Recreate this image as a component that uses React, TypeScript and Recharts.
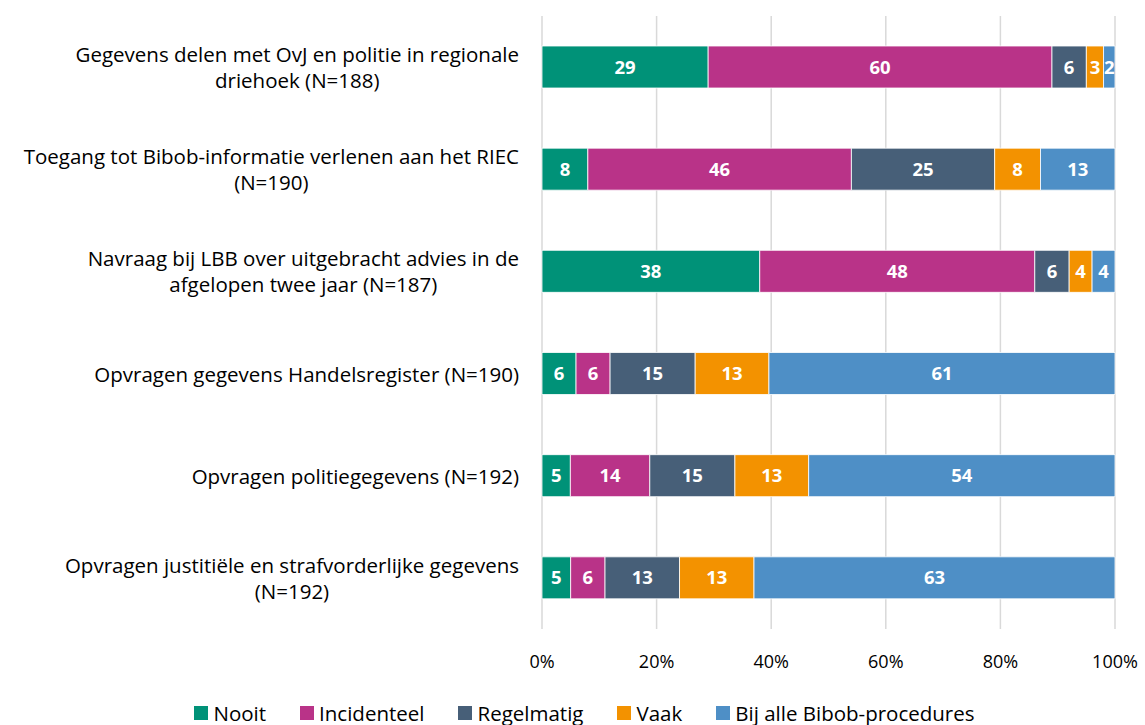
import React from 'react';
import { BarChart, Bar, XAxis, YAxis, CartesianGrid, LabelList } from 'recharts';

const categories = [
  ['Gegevens delen met OvJ en politie in regionale', 'driehoek (N=188)'],
  ['Toegang tot Bibob-informatie verlenen aan het RIEC', '(N=190)'],
  ['Navraag bij LBB over uitgebracht advies in de', 'afgelopen twee jaar (N=187)'],
  ['Opvragen gegevens Handelsregister (N=190)'],
  ['Opvragen politiegegevens (N=192)'],
  ['Opvragen justitiële en strafvorderlijke gegevens', '(N=192)'],
];
const nooit = [29, 8, 38, 6, 5, 5];
const incidenteel = [60, 46, 48, 6, 14, 6];
const regelmatig = [6, 25, 6, 15, 15, 13];
const vaak = [3, 8, 4, 13, 13, 13];
const bijAlle = [2, 13, 4, 61, 54, 63];
const xTicks = [0, 0.2, 0.4, 0.6, 0.8, 1];

const series = [
  { key: 'nooit', name: 'Nooit', color: '#009278', values: nooit },
  { key: 'incidenteel', name: 'Incidenteel', color: '#B93388', values: incidenteel },
  { key: 'regelmatig', name: 'Regelmatig', color: '#475F78', values: regelmatig },
  { key: 'vaak', name: 'Vaak', color: '#F39200', values: vaak },
  { key: 'bijAlle', name: 'Bij alle Bibob-procedures', color: '#4E8FC6', values: bijAlle },
];

const data = categories.map((c, i) => {
  const row: any = { cat: c.join('|') };
  series.forEach((s) => (row[s.key] = s.values[i]));
  return row;
});

const FONT = '"Open Sans", sans-serif';
const LABEL_SIZE = 20.5;

let ctx: CanvasRenderingContext2D | null = null;
function measure(t: string, size: number): number {
  if (!ctx) {
    const c = document.createElement('canvas');
    ctx = c.getContext('2d');
  }
  if (!ctx) return t.length * size * 0.5;
  ctx.font = `${size}px "Open Sans"`;
  return ctx.measureText(t).width;
}

const YTick = (props: any) => {
  const { x, y, payload } = props;
  const lines: string[] = String(payload.value).split('|');
  const lh = 26;
  const start = -((lines.length - 1) * lh) / 2;
  const maxW = Math.max(...lines.map((l) => measure(l, LABEL_SIZE)));
  const cx = x - maxW / 2;
  return (
    <g>
      {lines.map((l, i) => (
        <text
          key={i}
          x={cx}
          y={y + start + i * lh}
          textAnchor="middle"
          dominantBaseline="central"
          fontSize={LABEL_SIZE}
          fontFamily={FONT}
          fill="#000"
        >
          {l}
        </text>
      ))}
    </g>
  );
};

export default function App() {
  return (
    <div style={{ position: 'absolute', left: 0, top: 0, width: 1145, height: 725, background: '#fff' }}>
      <BarChart
        width={1145}
        height={725}
        data={data}
        layout="vertical"
        stackOffset="expand"
        barSize={42}
        margin={{ top: 16, right: 30, left: 0, bottom: 66 }}
      >
        <CartesianGrid horizontal={false} stroke="#D9D9D9" strokeWidth={1.5} />
        <XAxis
          type="number"
          domain={[0, 1]}
          ticks={xTicks}
          tickFormatter={(v: number) => `${Math.round(v * 100)}%`}
          axisLine={false}
          tickLine={false}
          tickMargin={20}
          tick={{ fontSize: 18, fontFamily: FONT, fill: '#000' }}
          interval={0}
        />
        <YAxis
          type="category"
          dataKey="cat"
          width={542}
          axisLine={false}
          tickLine={false}
          tickMargin={17}
          tick={<YTick />}
          interval={0}
        />
        {series.map((s) => (
          <Bar
            key={s.key}
            dataKey={s.key}
            name={s.name}
            stackId="a"
            fill={s.color}
            stroke="#ffffff"
            strokeWidth={0.8}
            isAnimationActive={false}
          >
            <LabelList
              dataKey={s.key}
              position="center"
              fill="#ffffff"
              fontSize={18.5}
              fontWeight="bold"
              fontFamily={FONT}
            />
          </Bar>
        ))}
      </BarChart>
      <div
        style={{
          position: 'absolute',
          left: 0,
          width: 1145,
          top: 700,
          display: 'flex',
          justifyContent: 'center',
          paddingLeft: 58,
          boxSizing: 'border-box',
          fontFamily: FONT,
          fontSize: 20.5,
          color: '#000',
          lineHeight: '26px',
        }}
      >
        {series.map((s) => (
          <div key={s.key} style={{ display: 'flex', alignItems: 'center', marginRight: 34 }}>
            <span style={{ display: 'inline-block', width: 14, height: 14, background: s.color, marginRight: 5 }} />
            <span>{s.name}</span>
          </div>
        ))}
      </div>
    </div>
  );
}
